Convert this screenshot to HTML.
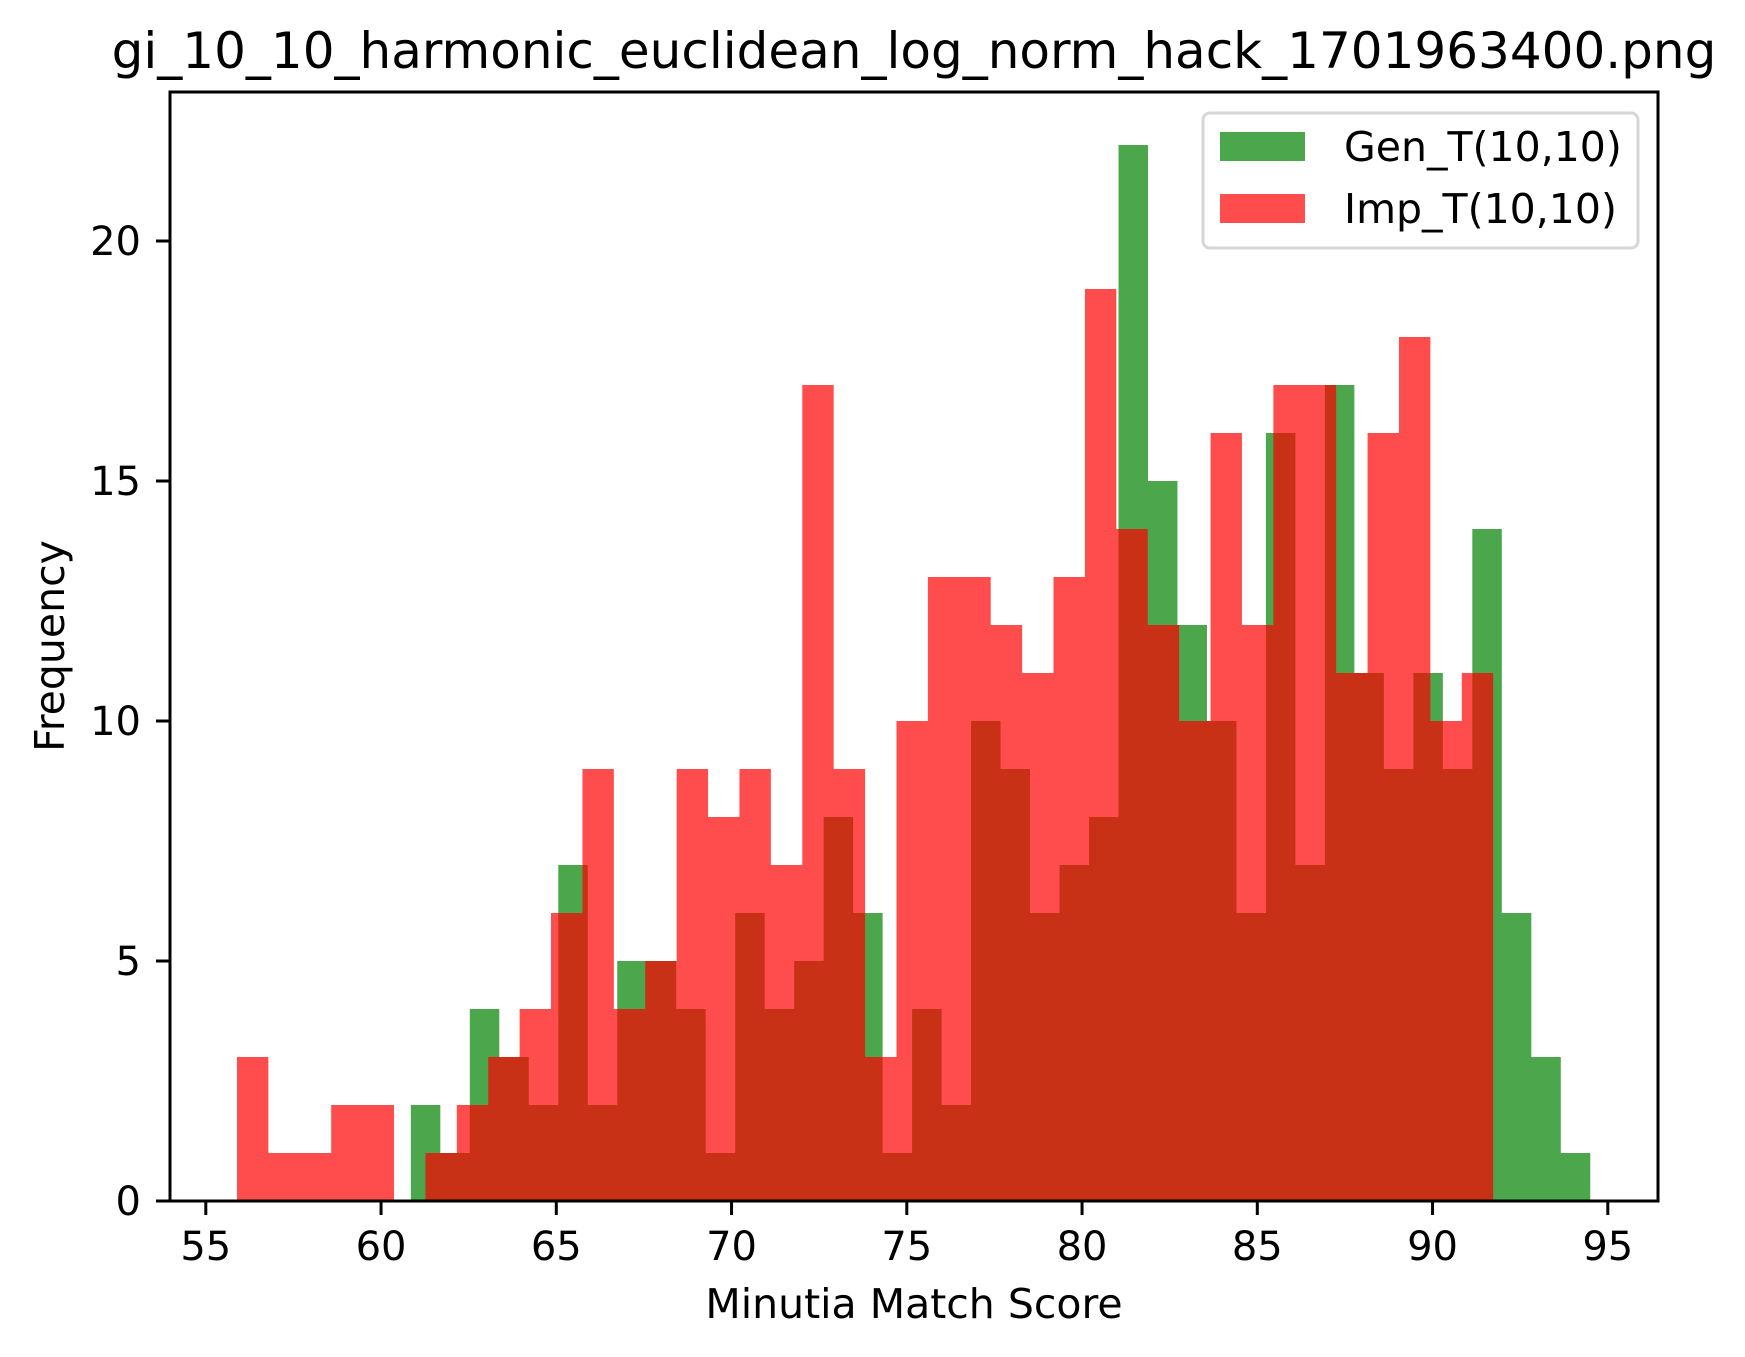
<!DOCTYPE html>
<html><head><meta charset="utf-8"><style>
html,body{margin:0;padding:0;background:#fff;}
svg{display:block;font-family:"DejaVu Sans","Liberation Sans",sans-serif;}
</style></head><body>
<svg id="chart" width="1745" height="1357" viewBox="0 0 1745 1357" xmlns="http://www.w3.org/2000/svg">
<rect width="1745" height="1357" fill="#fff"/>
<text x="914" y="68" font-size="50" text-anchor="middle">gi_10_10_harmonic_euclidean_log_norm_hack_1701963400.png</text>
<g id="bars"></g>
<g id="axes"></g>
<text x="914" y="1318" font-size="41" text-anchor="middle">Minutia Match Score</text>
<text x="0" y="0" font-size="41" text-anchor="middle" transform="translate(64,646) rotate(-90)">Frequency</text>
<g>
<rect x="1209" y="113" width="435" height="135" rx="7" fill="#fff" fill-opacity="0.8" stroke="#d6d6d6" stroke-width="3" transform="translate(-6,0)"/>
<rect x="1220" y="132" width="85" height="29" fill="#008000" fill-opacity="0.7"/>
<text x="1344" y="161" font-size="41">Gen_T(10,10)</text>
<rect x="1220" y="194" width="85" height="29" fill="#ff0000" fill-opacity="0.7"/>
<text x="1344" y="223" font-size="41">Imp_T(10,10)</text>
</g>
</svg>
<script>
const genStart = 60.85, genEnd = 94.50;
const impStart = 55.89, impEnd = 91.73;
const genCounts = [2,1,4,3,2,7,2,5,5,4,1,6,4,5,8,6,1,4,2,10,9,6,7,8,22,15,12,10,6,16,7,17,11,9,11,9,14,6,3,1];
const impCounts = [3,1,1,2,2,0,1,2,3,4,6,9,4,5,9,8,9,7,17,9,3,10,13,13,12,11,13,19,14,12,10,16,12,17,17,11,16,18,10,11];
const xTicks = [55,60,65,70,75,80,85,90,95];
const yTicks = [0,5,10,15,20];

const NS = "http://www.w3.org/2000/svg";
const L = 170, R = 1658, T = 92, B = 1201;
const xs = v => 205.8 + (v - 55) * 35.05;
const ys = v => B - v * 48.0;

function mk(tag, attrs, parent){
  const e = document.createElementNS(NS, tag);
  for (const k in attrs) e.setAttribute(k, attrs[k]);
  parent.appendChild(e);
  return e;
}
const bars = document.getElementById('bars');
const axes = document.getElementById('axes');

function drawHist(counts, start, end, color, name){
  const w = (end - start) / counts.length;
  let d = 'M' + xs(start) + ',' + ys(0);
  counts.forEach((c, i) => {
    const x0 = xs(start + i * w), x1 = xs(start + (i + 1) * w);
    d += ' L' + x0 + ',' + ys(c) + ' L' + x1 + ',' + ys(c);
  });
  d += ' L' + xs(end) + ',' + ys(0) + ' Z';
  const p = mk('path', {d: d, fill: color, 'fill-opacity': 0.7}, bars);
  
  
  counts.forEach((c, i) => {
    if (c <= 0) return;
    const x0 = xs(start + i * w), x1 = xs(start + (i + 1) * w);
    const r = mk('rect', {x: x0, y: ys(c), width: x1 - x0, height: ys(0) - ys(c), fill: 'none'}, bars);
    
    
  });
}
drawHist(genCounts, genStart, genEnd, '#008000', 'gen');
drawHist(impCounts, impStart, impEnd, '#ff0000', 'imp');

const frame = mk('rect', {x: L, y: T, width: R - L, height: B - T, fill: 'none', stroke: '#000', 'stroke-width': 3}, axes);



xTicks.forEach(v => {
  const x = xs(v);
  const t = mk('line', {x1: x, x2: x, y1: B, y2: B + 14, stroke: '#000', 'stroke-width': 3}, axes);
  
  
  const lb = mk('text', {x: x, y: 1260, 'font-size': 40, 'text-anchor': 'middle'}, axes);
  lb.textContent = v;
  
  
});
yTicks.forEach(v => {
  const y = ys(v);
  const t = mk('line', {x1: L - 14, x2: L, y1: y, y2: y, stroke: '#000', 'stroke-width': 3}, axes);
  
  
  const lb = mk('text', {x: 141, y: y + 14, 'font-size': 40, 'text-anchor': 'end'}, axes);
  lb.textContent = v;
  
  
});
</script>
</body></html>
